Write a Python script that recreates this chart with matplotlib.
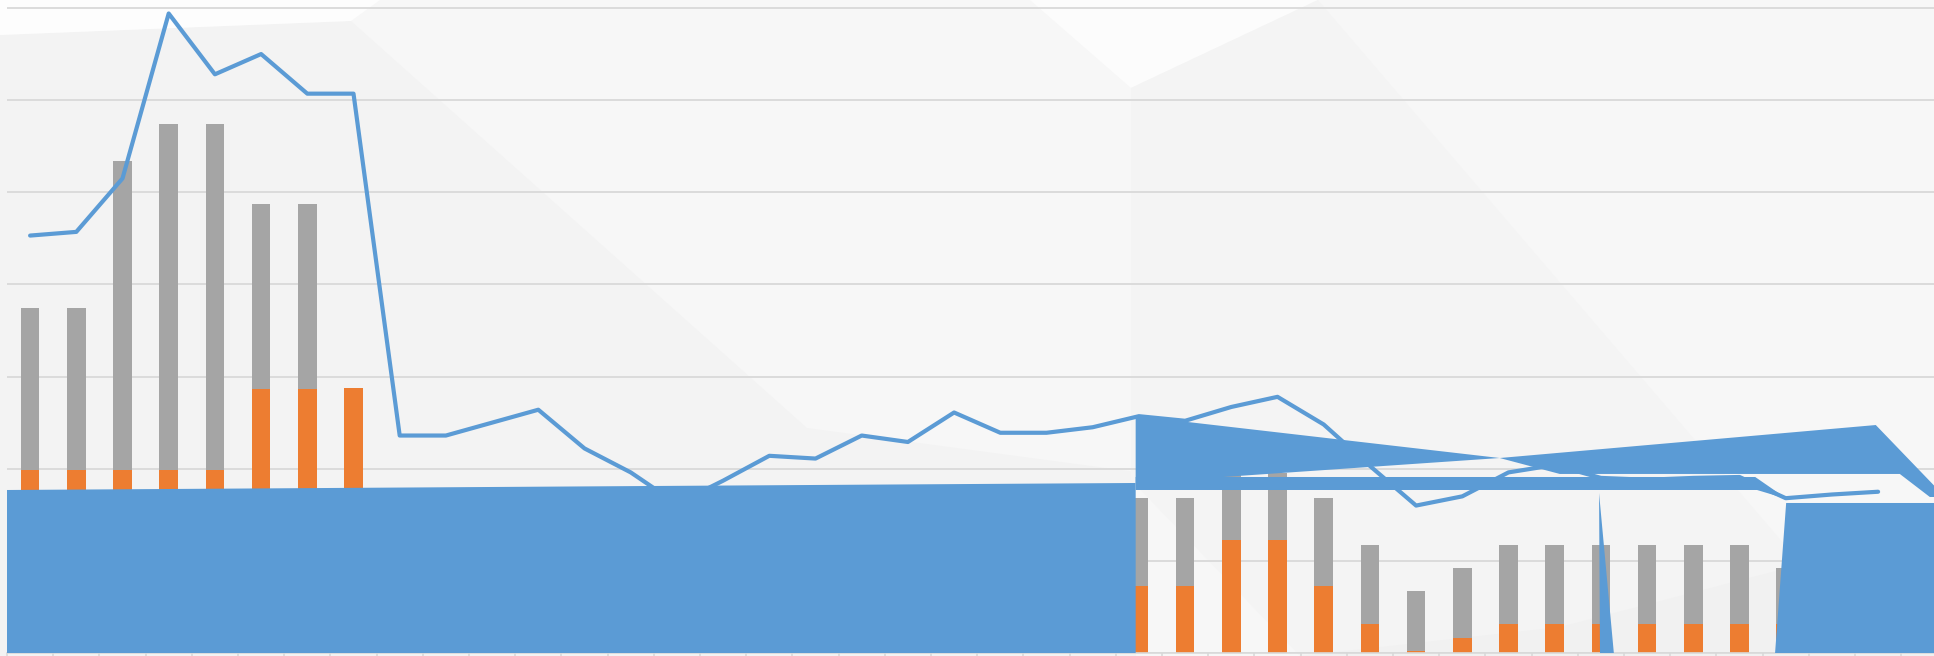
import numpy as np
import matplotlib
matplotlib.use("Agg")
import matplotlib.pyplot as plt
from matplotlib.patches import Polygon

# 42 categories on the x axis (chart is cropped on the right)
categories = np.arange(42)

# stacked columns: orange bottom, gray on top
orange = [19.9, 19.9, 19.9, 19.9, 19.9, 28.7, 28.7, 28.8,
          3.2, 3.2, 3.2, 3.2, 3.2, 3.2, 3.2, 3.2,
          3.2, 3.2, 3.2, 3.2, 3.2, 3.2, 3.2, 3.2,
          7.3, 7.3, 12.3, 12.3, 7.3, 3.15, 0.22, 1.63,
          3.15, 3.15, 3.15, 3.15, 3.15, 3.15, 3.15, 3.15, 3.15, 3.15]
gray = [17.5, 17.5, 33.5, 37.5, 37.5, 20.0, 20.0, 0.0,
        8.5, 8.5, 8.5, 8.5, 8.5, 8.5, 8.5, 8.5,
        8.5, 8.5, 8.5, 8.5, 8.5, 8.5, 8.5, 8.5,
        9.55, 9.55, 7.2, 7.2, 9.55, 8.57, 6.51, 7.59,
        8.57, 8.57, 8.57, 8.57, 8.57, 8.57, 6.07, 8.57, 8.57, 8.57]

# line series (ends at category 40)
line_vals = [45.3, 45.7, 51.5, 69.4, 62.8, 65.0, 60.7, 60.7,
             23.6, 23.6, 25.0, 26.4, 22.2, 19.6, 16.2, 18.7,
             21.4, 21.1, 23.6, 22.9, 26.1, 23.9, 23.9, 24.5,
             25.7, 25.2, 26.7, 27.8, 24.8, 20.3, 16.0, 17.0,
             19.6, 20.4, 19.0, 18.8, 19.0, 19.1, 16.8, 17.2, 17.5]

# the broken area series, drawn as filled pieces (x in category units, y in values)
area_a_x = [-0.5, -0.5, 23.93, 23.93, 31.81, 23.93, 23.93]
area_a_y = [0.0, 17.69, 18.45, 25.72, 21.16, 18.45, 0.0]
area_b_x = [31.81, 39.95, 41.45, 41.12, 40.47, 33.11]
area_b_y = [21.16, 24.74, 16.93, 16.93, 19.43, 19.43]
area_c_x = [23.93, 37.34, 38.03, 37.38, 23.93]
area_c_y = [19.1, 19.1, 16.71, 17.69, 17.69]
area_d_x = [37.77, 38.01, 41.6, 41.6]
area_d_y = [0.0, 16.28, 16.28, 0.0]
area_e_x = [33.96, 34.28, 33.98]
area_e_y = [17.36, 0.0, 0.0]

BLUE = "#5b9bd5"
W, H = 1934, 656

fig = plt.figure(figsize=(W / 100, H / 100), dpi=100)
fig.patch.set_facecolor("#f7f7f7")


def bg(pts, color):
    # faint background shapes, given in pixels from the top-left corner
    xy = [(x / W, 1 - y / H) for x, y in pts]
    fig.add_artist(Polygon(xy, closed=True, transform=fig.transFigure,
                           facecolor=color, edgecolor="none", zorder=-1))


bg([(0, 35), (351, 21), (807, 428), (1136, 472), (1136, 656), (0, 656)], "#f3f3f3")
bg([(0, 0), (380, 0), (351, 21), (0, 35)], "#fdfdfd")
bg([(1030, 0), (1131, 88), (1318, 0)], "#fcfcfc")
bg([(1131, 88), (1318, 0), (1880, 656), (1300, 656), (1131, 480)], "#f4f4f4")
bg([(1300, 656), (1560, 627), (1934, 530), (1934, 656)], "#f1f1f1")

ax = fig.add_axes([7 / W, 3 / H, 1940.4 / W, 647.8 / H])
ax.set_facecolor("none")
ax.set_xlim(-0.5, 41.5)
ax.set_ylim(0, 70.3)

ax.set_yticks(range(0, 71, 10))
ax.yaxis.grid(True, color="#d9d9d9", lw=1.3)
ax.set_axisbelow(True)
ax.tick_params(axis="y", length=0, labelleft=False)
ax.set_xticks(np.arange(-0.5, 42, 1))
ax.tick_params(axis="x", length=4, color="#d9d9d9", width=1.2, labelbottom=False)
for s in ["left", "right", "top"]:
    ax.spines[s].set_visible(False)
ax.spines["bottom"].set_color("#d9d9d9")
ax.spines["bottom"].set_linewidth(1.2)

ax.bar(categories, orange, width=0.4, color="#ed7d31", zorder=2)
ax.bar(categories, gray, width=0.4, bottom=orange, color="#a5a5a5", zorder=2)

for xs, ys in [(area_a_x, area_a_y), (area_b_x, area_b_y), (area_c_x, area_c_y),
               (area_d_x, area_d_y), (area_e_x, area_e_y)]:
    ax.fill(xs, ys, color=BLUE, lw=0, zorder=3)

ax.plot(categories[:len(line_vals)], line_vals, color=BLUE, lw=3.0,
        solid_capstyle="round", solid_joinstyle="round", zorder=4)

fig.savefig("out.png", dpi=100, facecolor=fig.get_facecolor())
